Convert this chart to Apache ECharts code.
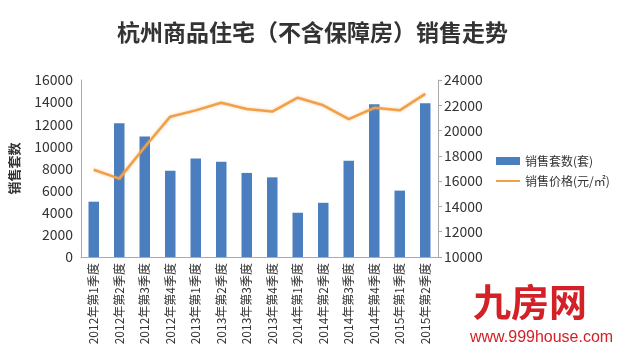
<!DOCTYPE html>
<html><head><meta charset="utf-8">
<script src="https://cdn.jsdelivr.net/npm/echarts@6/dist/echarts.min.js"></script>
<style>html,body{margin:0;padding:0;background:#fff}#c{width:625px;height:357px}</style>
</head><body><div id="c"></div>
<script>
var categories = ['2012年第1季度','2012年第2季度','2012年第3季度','2012年第4季度','2013年第1季度','2013年第2季度','2013年第3季度','2013年第4季度','2014年第1季度','2014年第2季度','2014年第3季度','2014年第4季度','2015年第1季度','2015年第2季度'];
var salesUnits = [5000,12100,10900,7800,8900,8600,7600,7200,4000,4900,8700,13800,6000,13900];
var salesPrice = [16900,16200,18700,21100,21600,22200,21700,21500,22600,22000,20900,21800,21600,22900];
var leftTicks = [0,16000,2000];
var rightTicks = [10000,24000,2000];

var chart = echarts.init(document.getElementById('c'));
var font = '"Noto Sans CJK SC", "Liberation Sans", sans-serif';
var plain = function(v){ return String(v); };
chart.setOption({
  animation:false,
  backgroundColor:'#fff',
  title:{text:'杭州商品住宅（不含保障房）销售走势',left:'center',top:16,
    textStyle:{fontFamily:font,fontSize:23,fontWeight:'bold',color:'#333'}},
  legend:{orient:'vertical',left:490,top:150,itemGap:8,itemWidth:24,itemHeight:8,
    textStyle:{fontFamily:font,fontSize:12,color:'#333'},
    data:[{name:'销售套数(套)',icon:'rect'},{name:'销售价格(元/㎡)',itemStyle:{opacity:0}}]},
  grid:{left:77.5,right:187,top:80,bottom:100},
  xAxis:{type:'category',data:categories,
    axisLine:{lineStyle:{color:'#aaa'}},axisTick:{show:false},
    axisLabel:{rotate:90,interval:0,fontFamily:font,fontSize:12,color:'#333',margin:6}},
  yAxis:[
    {type:'value',min:leftTicks[0],max:leftTicks[1],interval:leftTicks[2],
     name:'销售套数',nameLocation:'middle',nameGap:60,nameRotate:90,
     nameTextStyle:{fontFamily:font,fontSize:13,fontWeight:'bold',color:'#333'},
     axisLine:{show:true,lineStyle:{color:'#aaa'}},axisTick:{show:false},splitLine:{show:false},
     axisLabel:{fontFamily:font,fontSize:14,color:'#333',margin:8,formatter:plain}},
    {type:'value',min:rightTicks[0],max:rightTicks[1],interval:rightTicks[2],position:'right',
     axisLine:{show:true,lineStyle:{color:'#aaa'}},axisTick:{show:true,length:4,lineStyle:{color:'#aaa'}},splitLine:{show:false},
     axisLabel:{fontFamily:font,fontSize:14,color:'#333',margin:6,formatter:plain}}
  ],
  series:[
    {name:'销售套数(套)',type:'bar',data:salesUnits,barWidth:10.5,itemStyle:{color:'#4a7ebf'}},
    {name:'销售价格(元/㎡)',type:'line',yAxisIndex:1,data:salesPrice,symbol:'none',
     itemStyle:{color:'#f0a048'},
     lineStyle:{color:'#f0a048',width:2.5,shadowColor:'rgba(240,160,72,0.5)',shadowBlur:3}}
  ],
  graphic:[
    {type:'text',left:473,top:283,style:{text:'九房网',fontFamily:font,fontSize:38,fontWeight:'bold',fill:'#d42027'}},
    {type:'text',left:470,top:330,style:{text:'www.999house.com',fontFamily:'"Liberation Sans", sans-serif',fontSize:16,fill:'#d42027'}}
  ]
});
</script></body></html>
